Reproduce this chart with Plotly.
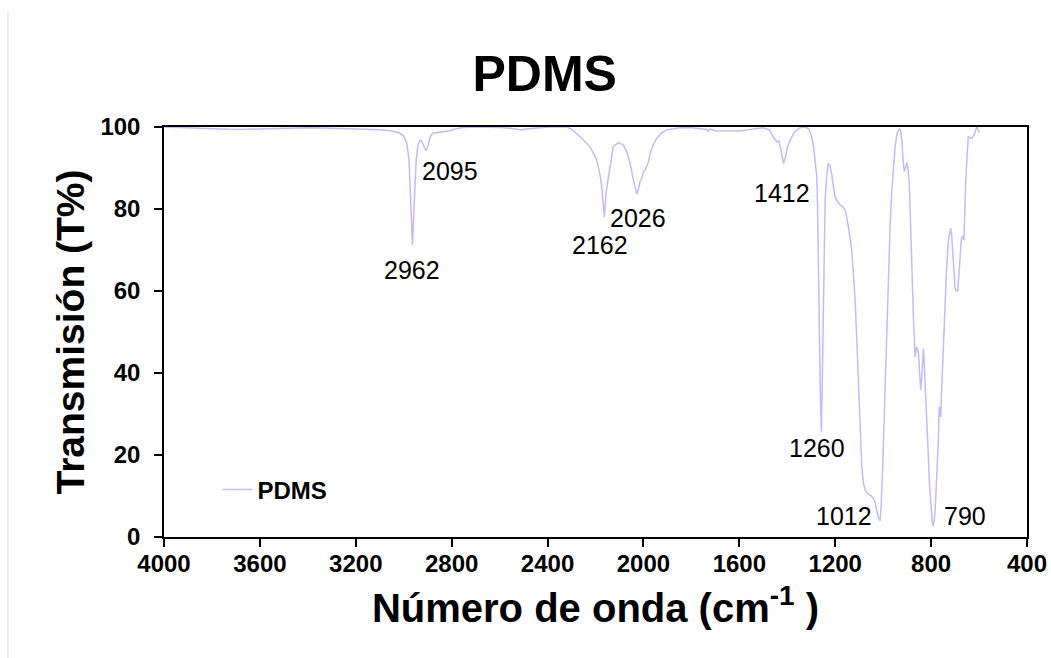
import plotly.graph_objects as go

# Spectrum (wavenumber cm-1, transmission %)
wavenumber = [4000, 3900, 3800, 3700, 3600, 3500, 3400, 3300, 3200, 3100, 3050, 3020, 3000, 2987, 2978, 2972, 2968, 2964, 2960, 2955, 2948, 2940, 2932, 2925, 2915, 2907, 2898, 2890, 2880, 2850, 2807, 2780, 2753, 2700, 2600, 2540, 2510, 2480, 2430, 2390, 2320, 2300, 2264, 2223, 2195, 2180, 2174, 2168, 2163, 2156, 2146, 2135, 2126, 2105, 2084, 2070, 2056, 2042, 2035, 2028, 2020, 2014, 2007, 2000, 1993, 1986, 1979, 1972, 1960, 1945, 1925, 1903, 1870, 1847, 1800, 1750, 1735, 1729, 1722, 1700, 1650, 1600, 1568, 1530, 1501, 1475, 1459, 1444, 1435, 1425, 1416, 1408, 1400, 1388, 1370, 1347, 1326, 1310, 1298, 1290, 1284, 1277, 1274, 1270, 1266, 1262, 1258, 1254, 1249, 1245, 1242, 1236, 1229, 1222, 1215, 1208, 1201, 1190, 1180, 1168, 1159, 1152, 1145, 1138, 1131, 1124, 1117, 1110, 1103, 1096, 1089, 1082, 1075, 1065, 1055, 1048, 1041, 1034, 1027, 1020, 1013, 1008, 1002, 997, 992, 985, 978, 971, 964, 957, 950, 942, 932, 927, 922, 917, 912, 907, 902, 897, 891, 886, 881, 874, 867, 863, 860, 856, 853, 848, 843, 838, 832, 827, 821, 814, 807, 800, 795, 791, 786, 782, 777, 771, 766, 760, 755, 748, 742, 735, 728, 722, 718, 714, 710, 705, 700, 695, 689, 684, 679, 674, 670, 666, 663, 660, 656, 650, 645, 638, 630, 625, 621, 615, 609, 605, 600]
transmission = [100, 99.8, 99.5, 99.4, 99.5, 99.6, 99.8, 99.7, 99.5, 99.3, 99.0, 98.6, 97.8, 96, 92, 85, 78, 71.2, 76, 85, 92, 95.8, 96.8, 96.5, 95, 94.2, 95.5, 97.5, 98.5, 98.8, 99.1, 99.6, 99.9, 100, 99.9, 99.6, 99.3, 99.6, 99.9, 100, 100, 99.5, 97.6, 95.2, 92, 88, 85.4, 82, 78.0, 84, 87.9, 92, 95.2, 96.2, 95.6, 94, 91.2, 87.1, 85.5, 83.7, 85, 86.7, 87.5, 89.1, 89.5, 90.7, 91.5, 93.6, 95.5, 97.2, 98.5, 99.3, 99.6, 99.8, 99.8, 99.6, 99.4, 99.0, 99.5, 99.1, 99.0, 99.0, 99.3, 99.6, 99.8, 99.3, 97.6, 96.4, 96.6, 94, 91.1, 92.5, 95, 96.8, 98.8, 99.8, 100, 99.5, 97.6, 95, 92, 87.9, 82.2, 70, 49.7, 35, 25.7, 38, 57.8, 72, 82.2, 88, 91.1, 90.5, 88.7, 85.5, 83, 81.8, 81, 80.5, 79.8, 78, 75.7, 73, 70, 64, 57.8, 48, 37.5, 27, 17.1, 13, 11.5, 10.6, 10.2, 9.9, 9.4, 8.5, 6.6, 4.8, 4.0, 8, 17.1, 27, 37.5, 52, 65.9, 76, 84.6, 90.5, 95.2, 98.5, 99.6, 99, 96.8, 92, 89.1, 90, 91.3, 90, 86.3, 77, 65.9, 54, 44, 45, 46.4, 45.5, 45, 40, 35.9, 40, 46, 40, 33.4, 23, 13.1, 6, 3.5, 2.7, 4.5, 8, 13.1, 22, 31.8, 29.3, 37.5, 48, 57.8, 66, 72.4, 74.5, 75.3, 73.5, 70, 65, 60.7, 60, 60.2, 64, 70, 72.5, 73.2, 73, 72.4, 80, 86.3, 93, 97.6, 97.4, 97.2, 97.8, 98, 99, 100, 99.5, 98.6]

# Peak labels
label_text = ["2962", "2095", "2162", "2026", "1412", "1260", "1012", "790"]
label_x = [2965, 2807, 2181, 2022, 1422, 1277, 1165, 658]
label_y = [65.1, 89.3, 71.2, 77.8, 84.0, 21.7, 5.1, 5.1]

x_ticks = [4000, 3600, 3200, 2800, 2400, 2000, 1600, 1200, 800, 400]
y_ticks = [0, 20, 40, 60, 80, 100]

FONT = "Arial, Liberation Sans, sans-serif"
LINE_COLOR = "#c9b8f7"

fig = go.Figure()
fig.add_trace(go.Scatter(x=wavenumber, y=transmission, mode="lines", name="PDMS",
                         line=dict(color=LINE_COLOR, width=1.5)))

for t, xx, yy in zip(label_text, label_x, label_y):
    fig.add_annotation(x=xx, y=yy, xref="x", yref="y", text=t, showarrow=False,
                       font=dict(family=FONT, size=25, color="#000"),
                       xanchor="center", yanchor="middle")

fig.add_shape(type="line", xref="paper", yref="paper", x0=-0.1808, x1=-0.1808,
              y0=1.28, y1=-0.3, line=dict(color="#dcdcdc", width=1))

fig.update_layout(
    width=1051, height=658, autosize=False,
    margin=dict(l=164, r=24, t=127, b=121, autoexpand=False),
    paper_bgcolor="white", plot_bgcolor="white",
    title=dict(text="<b>PDMS</b>", x=0.5183, xanchor="center", y=1 - 73 / 658, yanchor="middle",
               yref="container", font=dict(family=FONT, size=50, color="#000")),
    showlegend=True,
    legend=dict(x=0.062, y=0.115, xanchor="left", yanchor="middle", bgcolor="rgba(0,0,0,0)",
                font=dict(family=FONT, size=24, color="#000", weight="bold")),
    xaxis=dict(range=[4000, 400], tickvals=x_ticks, ticktext=[str(v) for v in x_ticks],
               automargin=False,
               showgrid=False, zeroline=False, showline=True, linecolor="#000", linewidth=1.5,
               mirror=True, ticks="outside", ticklen=8, tickwidth=1.5, tickcolor="#000",
               ticklabelstandoff=-4,
               tickfont=dict(family=FONT, size=24, color="#000", weight="bold"),
               title=dict(text="<b>Número de onda (cm<sup>-1</sup> )</b>", standoff=18,
                          font=dict(family=FONT, size=40, color="#000"))),
    yaxis=dict(range=[0, 100], tickvals=y_ticks, ticktext=[str(v) for v in y_ticks],
               automargin=False,
               showgrid=False, zeroline=False, showline=True, linecolor="#000", linewidth=1.5,
               mirror=True, ticks="outside", ticklen=8, tickwidth=1.5, tickcolor="#000",
               ticklabelstandoff=9,
               tickfont=dict(family=FONT, size=24, color="#000", weight="bold"),
               title=dict(text="<b>Transmisión (T%)</b>", standoff=4,
                          font=dict(family=FONT, size=39, color="#000"))),
)

fig.write_html("out.html")
